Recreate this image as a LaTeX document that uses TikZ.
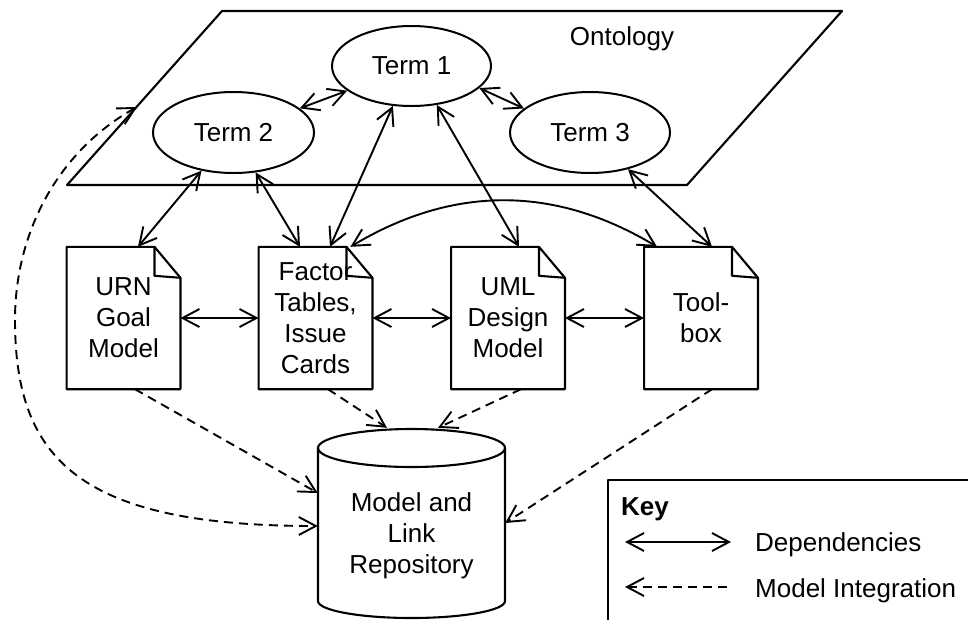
\documentclass[tikz,border=0pt]{standalone}
\usepackage{fontspec}
\setmainfont{Liberation Sans}
\usetikzlibrary{arrows.meta,shapes.geometric,calc}
\tikzset{barb/.tip={Straight Barb[length=17pt,width=18pt]}}
\begin{document}
\begin{tikzpicture}[x=1pt,y=-1pt,
  every node/.style={font=\fontsize{26}{31}\selectfont,inner sep=0pt},
  term/.style={ellipse,draw,line width=2pt,minimum width=159pt,minimum height=80pt},
  doc/.style={minimum width=113.5pt,minimum height=142pt,align=center},
  dep/.style={line width=1.9pt,barb-barb},
  integ/.style={line width=1.9pt,dash pattern=on 9pt off 6pt,-barb},
  outline/.style={line width=2.1pt,line join=round}]
\useasboundingbox (0,0) rectangle (968,619);
\clip (0,0) rectangle (968,619);

% ontology plane
\draw[outline] (222,11) -- (842,11) -- (687,185) -- (67,185) -- cycle;
\node[anchor=base] (onto) at (622,45) {Ontology};
\coordinate (ontoedge) at (137,107);

% terms
\node[term] (t1) at (411.5,66) {Term 1};
\node[term,minimum width=161pt,minimum height=81pt] (t2) at (233.5,132.5) {Term 2};
\node[term,minimum width=160pt,minimum height=81pt] (t3) at (590,132.5) {Term 3};

% documents
\node[doc] (urn) at (123.5,318) {URN\\Goal\\Model};
\node[doc] (fac) at (315.5,318) {Factor\\Tables,\\Issue\\Cards};
\node[doc] (uml) at (508,318) {UML\\Design\\Model};
\node[doc] (tool) at (701,318) {Tool-\\box};
\foreach \n in {urn,fac,uml,tool}{
  \draw[outline] (\n.north west) -- ([xshift=-26pt]\n.north east) -- ([yshift=-31pt]\n.north east) -- (\n.south east) -- (\n.south west) -- cycle;
  \draw[outline] ([xshift=-26pt]\n.north east) -- ([xshift=-26pt,yshift=-29pt]\n.north east) -- ([yshift=-31pt]\n.north east);
}

% repository cylinder
\draw[outline] (411.5,448) ellipse [x radius=93.5, y radius=19];
\draw[outline] (318,448) -- (318,601) arc[start angle=180, end angle=0, x radius=93.5, y radius=17] -- (505,448);
\node[minimum width=187pt,minimum height=172pt,align=center] (repo) at (411.5,536) {Model and\\Link\\Repository};

% dependencies
\draw[dep] (t2.20) -- (t1.201);
\draw[dep] (t1.342) -- (t3.160);
\draw[dep] (t2.230) -- ([xshift=14.5pt]urn.north);
\draw[dep] (t2.299) -- ([xshift=-15.5pt]fac.north);
\draw[dep] (t1.245) -- ([xshift=14.5pt]fac.north);
\draw[dep] (t1.303) -- ([xshift=11pt]uml.north);
\draw[dep] (t3.316) -- ([xshift=11pt]tool.north);
\draw[dep] ([xshift=-22pt]fac.north east) to[bend left=31] ([xshift=13pt]tool.north west);
\draw[dep] (urn) -- (fac);
\draw[dep] (fac) -- (uml);
\draw[dep] (uml) -- (tool);

% model integration
\draw[integ] ([xshift=11.5pt]urn.south) -- ([yshift=43pt]repo.west);
\draw[integ] ([xshift=12.5pt]fac.south) -- ([xshift=-24.5pt,yshift=22pt]repo.north);
\draw[integ] ([xshift=13pt]uml.south) -- ([xshift=26.5pt,yshift=22pt]repo.north);
\draw[integ] ([xshift=11pt]tool.south) -- ([yshift=13pt]repo.east);
\draw[integ,barb-barb] (ontoedge) .. controls (60,150) and (15,230) .. (15,320)
  .. controls (15,460) and (80,526) .. ([yshift=10pt]repo.west);

% key
\draw[outline] (608,480) rectangle (990,640);
\node[anchor=base west,font=\fontsize{26}{31}\selectfont\bfseries] (key) at (621,515) {Key};
\coordinate (k1a) at (625,542);
\coordinate (k1b) at (731,542);
\draw[dep] (k1a) -- (k1b);
\coordinate (k2a) at (727,587);
\coordinate (k2b) at (625,587);
\draw[integ] (k2a) -- (k2b);
\node[anchor=base west] (dtext) at (755,551) {Dependencies};
\node[anchor=base west] (mtext) at (755,597) {Model Integration};
\end{tikzpicture}
\end{document}
